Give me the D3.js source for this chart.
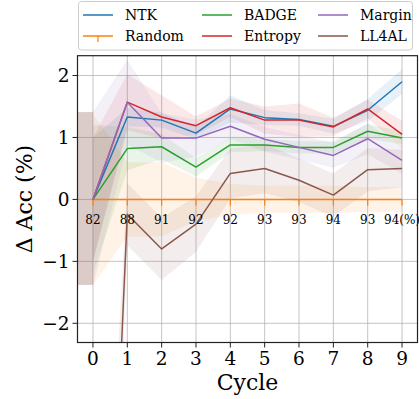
<!DOCTYPE html>
<html>
<head>
<meta charset="utf-8">
<script src="https://cdn.jsdelivr.net/npm/d3@7"></script>
<style>
  html, body { margin: 0; padding: 0; background: #fff; }
  svg { display: block; }
  text { font-family: "DejaVu Serif", serif; fill: #000; }
</style>
</head>
<body>
<svg id="chart" width="419" height="399"></svg>
<script>
// ---------------- data ----------------
const cycles = [0, 1, 2, 3, 4, 5, 6, 7, 8, 9];
const accLabels = ["82", "88", "91", "92", "92", "93", "93", "94", "93", "94(%)"];
const xTickLabels = ["0", "1", "2", "3", "4", "5", "6", "7", "8", "9"];
const yTicks = [-2, -1, 0, 1, 2];

const ntkMean     = [0, 1.33, 1.28, 1.07, 1.46, 1.32, 1.29, 1.18, 1.44, 1.90];
const ntkStd      = [1.0, 0.15, 0.12, 0.10, 0.22, 0.12, 0.10, 0.12, 0.18, 0.20];
const randomMean  = [0, 0, 0, 0, 0, 0, 0, 0, 0, 0];
const randomStd   = [1.38, 0.6, 0.6, 0.35, 0.25, 0.22, 0.22, 0.22, 0.2, 0.2];
const badgeMean   = [0, 0.82, 0.85, 0.52, 0.88, 0.88, 0.84, 0.84, 1.10, 0.99];
const badgeStd    = [1.2, 0.35, 0.2, 0.15, 0.12, 0.1, 0.1, 0.1, 0.12, 0.1];
const entropyMean = [0, 1.57, 1.33, 1.19, 1.48, 1.28, 1.28, 1.17, 1.46, 1.05];
const entropyStd  = [1.0, 0.45, 0.35, 0.15, 0.15, 0.22, 0.27, 0.15, 0.15, 0.22];
const marginMean  = [0, 1.57, 0.99, 0.99, 1.18, 0.97, 0.84, 0.71, 0.98, 0.63];
const marginStd   = [1.41, 0.68, 0.4, 0.3, 0.2, 0.2, 0.2, 0.2, 0.25, 0.22];
const ll4alMean   = [-12.8, -0.24, -0.80, -0.40, 0.42, 0.50, 0.31, 0.07, 0.48, 0.50];
const ll4alStd    = [3.0, 0.5, 0.5, 0.45, 0.4, 0.4, 0.35, 0.35, 0.35, 0.3];
const ll4alPreBand = [-1.38, 1.41];

const seriesNames  = ["NTK", "Random", "BADGE", "Entropy", "Margin", "LL4AL"];
const seriesColors = ["#1f77b4", "#ff7f0e", "#2ca02c", "#d62728", "#9467bd", "#8c564b"];

const series = [
  { name: seriesNames[0], color: seriesColors[0], mean: ntkMean, std: ntkStd },
  { name: seriesNames[1], color: seriesColors[1], mean: randomMean, std: randomStd, tick: true },
  { name: seriesNames[2], color: seriesColors[2], mean: badgeMean, std: badgeStd },
  { name: seriesNames[3], color: seriesColors[3], mean: entropyMean, std: entropyStd },
  { name: seriesNames[4], color: seriesColors[4], mean: marginMean, std: marginStd },
  { name: seriesNames[5], color: seriesColors[5], mean: ll4alMean, std: ll4alStd }
];

// ---------------- layout ----------------
const L = 77.5, R = 417.5, T = 55.7, B = 342.5;
const svg = d3.select("#chart");

const x = d3.scaleLinear().domain([-0.45, 9.45]).range([L, R]);
const y = d3.scaleLinear().domain([-2.31, 2.32]).range([B, T]);

svg.append("defs").append("clipPath").attr("id", "clip")
  .append("rect").attr("x", L).attr("y", T).attr("width", R - L).attr("height", B - T);

// grid
const grid = svg.append("g");
grid.selectAll("line.gx").data(cycles).enter().append("line")
  .attr("x1", d => x(d)).attr("x2", d => x(d)).attr("y1", T).attr("y2", B)
  .attr("stroke", "#b0b0b0").attr("stroke-opacity", 0.75).attr("stroke-width", 1);
grid.selectAll("line.gy").data(yTicks).enter().append("line")
  .attr("x1", L).attr("x2", R).attr("y1", d => y(d)).attr("y2", d => y(d))
  .attr("stroke", "#b0b0b0").attr("stroke-opacity", 0.75).attr("stroke-width", 1);

const plot = svg.append("g").attr("clip-path", "url(#clip)");

// LL4AL band left of first cycle
plot.append("rect")
  .attr("x", x(-0.45)).attr("width", x(0) - x(-0.45))
  .attr("y", y(ll4alPreBand[1])).attr("height", y(ll4alPreBand[0]) - y(ll4alPreBand[1]))
  .attr("fill", seriesColors[5]).attr("fill-opacity", 0.3);

// bands
series.forEach(s => {
  const area = d3.area()
    .x((d, i) => x(cycles[i]))
    .y0((d, i) => y(s.mean[i] - s.std[i]))
    .y1((d, i) => y(s.mean[i] + s.std[i]));
  plot.append("path").datum(s.mean).attr("d", area)
    .attr("fill", s.color).attr("fill-opacity", 0.1);
});

// lines
series.forEach(s => {
  const line = d3.line().x((d, i) => x(cycles[i])).y(d => y(d));
  plot.append("path").datum(s.mean).attr("d", line)
    .attr("fill", "none").attr("stroke", s.color).attr("stroke-width", 1.5)
    .attr("stroke-linejoin", "round");
  if (s.tick) {
    plot.selectAll(null).data(s.mean).enter().append("line")
      .attr("x1", (d, i) => x(cycles[i])).attr("x2", (d, i) => x(cycles[i]))
      .attr("y1", d => y(d)).attr("y2", d => y(d) + 6)
      .attr("stroke", s.color).attr("stroke-width", 1.2);
  }
});

// accuracy annotations
svg.append("g").selectAll("text").data(accLabels).enter().append("text")
  .attr("x", (d, i) => x(cycles[i]))
  .attr("y", y(0) + 25)
  .attr("text-anchor", "middle")
  .attr("font-size", 12)
  .text(d => d);

// spines
svg.append("rect").attr("x", L).attr("y", T).attr("width", R - L).attr("height", B - T)
  .attr("fill", "none").attr("stroke", "#222").attr("stroke-width", 1.2);

// x axis ticks
const xAxis = svg.append("g");
xAxis.selectAll("line").data(cycles).enter().append("line")
  .attr("x1", d => x(d)).attr("x2", d => x(d)).attr("y1", B).attr("y2", B + 5)
  .attr("stroke", "#222").attr("stroke-width", 1);
xAxis.selectAll("text").data(cycles).enter().append("text")
  .attr("x", d => x(d)).attr("y", B + 22.5)
  .attr("text-anchor", "middle").attr("font-size", 18.5)
  .text((d, i) => xTickLabels[i]);

// y axis ticks
const yAxis = svg.append("g");
yAxis.selectAll("line").data(yTicks).enter().append("line")
  .attr("x1", L - 5).attr("x2", L).attr("y1", d => y(d)).attr("y2", d => y(d))
  .attr("stroke", "#222").attr("stroke-width", 1);
yAxis.selectAll("text").data(yTicks).enter().append("text")
  .attr("x", L - 8).attr("y", d => y(d) + 6.5)
  .attr("text-anchor", "end").attr("font-size", 18.5)
  .text(d => d < 0 ? "\u2212" + Math.abs(d) : String(d));

// axis labels
svg.append("text").attr("x", (L + R) / 2).attr("y", 390)
  .attr("text-anchor", "middle").attr("font-size", 22).text("Cycle");
svg.append("text")
  .attr("transform", `translate(32,${(T + B) / 2}) rotate(-90)`)
  .attr("text-anchor", "middle").attr("font-size", 22).text("\u0394 Acc (%)");

// legend
const lg = svg.append("g");
lg.append("rect").attr("x", 78.5).attr("y", 1.5).attr("width", 334).attr("height", 48.5)
  .attr("rx", 3).attr("fill", "#fff").attr("fill-opacity", 0.85)
  .attr("stroke", "#cccccc").attr("stroke-width", 1);
const colX = [83, 202, 318];
const rowY = [15, 36];
series.forEach((s, i) => {
  const c = Math.floor(i / 2), r = i % 2;
  const gx = colX[c], gy = rowY[r];
  lg.append("line").attr("x1", gx).attr("x2", gx + 30).attr("y1", gy).attr("y2", gy)
    .attr("stroke", s.color).attr("stroke-width", 1.5);
  if (s.tick) {
    lg.append("line").attr("x1", gx + 15).attr("x2", gx + 15).attr("y1", gy).attr("y2", gy + 6)
      .attr("stroke", s.color).attr("stroke-width", 1.2);
  }
  lg.append("text").attr("x", gx + 42).attr("y", gy + 5)
    .attr("font-size", 14).text(s.name);
});
</script>
</body>
</html>
